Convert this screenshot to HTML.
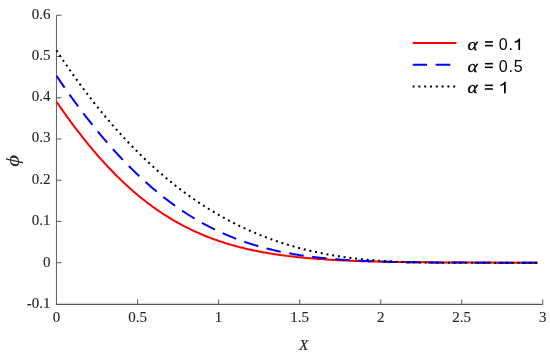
<!DOCTYPE html>
<html><head><meta charset="utf-8"><style>
html,body{margin:0;padding:0;background:#fff;}
body{width:550px;height:354px;overflow:hidden;}
svg{display:block;will-change:transform;}
.ax line,.ax path{stroke:#666666;stroke-width:1.1;fill:none;}
.tl{font-family:"Liberation Serif",serif;font-size:15px;fill:#262626;stroke:#262626;stroke-width:0.12px;}
.lg{font-family:"Liberation Sans",sans-serif;font-size:16px;fill:#000;}
.it{font-family:"Liberation Serif",serif;font-style:italic;}
</style></head><body>
<svg width="550" height="354" viewBox="0 0 550 354">
<rect width="550" height="354" fill="#fff"/>

<g class="ax">
<path d="M56.5,15.25 L56.5,304.4"/><path d="M55.95,304.4 L542.71,304.4" style="stroke:#555555;stroke-width:1.2"/>
<line x1="56.5" y1="15.25" x2="61.5" y2="15.25"/><line x1="56.5" y1="56.49" x2="61.5" y2="56.49"/><line x1="56.5" y1="97.73" x2="61.5" y2="97.73"/><line x1="56.5" y1="138.97" x2="61.5" y2="138.97"/><line x1="56.5" y1="180.21" x2="61.5" y2="180.21"/><line x1="56.5" y1="221.45" x2="61.5" y2="221.45"/><line x1="56.5" y1="262.69" x2="61.5" y2="262.69"/>
<line x1="137.53" y1="304.4" x2="137.53" y2="299.4"/><line x1="218.57" y1="304.4" x2="218.57" y2="299.4"/><line x1="299.61" y1="304.4" x2="299.61" y2="299.4"/><line x1="380.64" y1="304.4" x2="380.64" y2="299.4"/><line x1="461.67" y1="304.4" x2="461.67" y2="299.4"/><line x1="542.71" y1="304.4" x2="542.71" y2="299.4"/>
</g>
<g fill="none" stroke-width="2">
<path d="M56.50,101.77 L57.71,103.52 L58.91,105.25 L60.12,106.98 L61.33,108.69 L62.53,110.40 L63.74,112.09 L64.94,113.78 L66.15,115.45 L67.36,117.12 L68.56,118.77 L69.77,120.42 L70.98,122.05 L72.18,123.68 L73.39,125.29 L74.60,126.89 L75.80,128.49 L77.01,130.07 L78.21,131.64 L79.42,133.20 L80.63,134.74 L81.83,136.28 L83.04,137.81 L84.25,139.32 L85.45,140.83 L86.66,142.32 L87.87,143.80 L89.07,145.27 L90.28,146.73 L91.49,148.18 L92.69,149.62 L93.90,151.04 L95.10,152.46 L96.31,153.86 L97.52,155.25 L98.72,156.63 L99.93,158.00 L101.14,159.35 L102.34,160.70 L103.55,162.03 L104.76,163.35 L105.96,164.66 L107.17,165.96 L108.37,167.25 L109.58,168.53 L110.79,169.79 L111.99,171.04 L113.20,172.29 L114.41,173.51 L115.61,174.73 L116.82,175.94 L118.03,177.14 L119.23,178.32 L120.44,179.49 L121.64,180.65 L122.85,181.80 L124.06,182.94 L125.26,184.07 L126.47,185.18 L127.68,186.29 L128.88,187.38 L130.09,188.46 L131.30,189.53 L132.50,190.59 L133.71,191.64 L134.92,192.68 L136.12,193.70 L137.33,194.72 L138.53,195.72 L139.74,196.72 L140.95,197.70 L142.15,198.67 L143.36,199.63 L144.57,200.58 L145.77,201.52 L146.98,202.45 L148.19,203.37 L149.39,204.28 L150.60,205.17 L151.80,206.06 L153.01,206.94 L154.22,207.80 L155.42,208.66 L156.63,209.51 L157.84,210.34 L159.04,211.17 L160.25,211.98 L161.46,212.79 L162.66,213.58 L163.87,214.37 L165.07,215.15 L166.28,215.91 L167.49,216.67 L168.69,217.42 L169.90,218.16 L171.11,218.88 L172.31,219.60 L173.52,220.31 L174.73,221.01 L175.93,221.70 L177.14,222.39 L178.34,223.06 L179.55,223.72 L180.76,224.38 L181.96,225.03 L183.17,225.67 L184.38,226.29 L185.58,226.92 L186.79,227.53 L188.00,228.13 L189.20,228.73 L190.41,229.31 L191.62,229.89 L192.82,230.46 L194.03,231.03 L195.23,231.58 L196.44,232.13 L197.65,232.67 L198.85,233.20 L200.06,233.72 L201.27,234.24 L202.47,234.75 L203.68,235.25 L204.89,235.74 L206.09,236.23 L207.30,236.71 L208.50,237.18 L209.71,237.65 L210.92,238.10 L212.12,238.56 L213.33,239.00 L214.54,239.44 L215.74,239.87 L216.95,240.29 L218.16,240.71 L219.36,241.12 L220.57,241.52 L221.77,241.92 L222.98,242.31 L224.19,242.70 L225.39,243.08 L226.60,243.45 L227.81,243.82 L229.01,244.18 L230.22,244.54 L231.43,244.89 L232.63,245.23 L233.84,245.57 L235.05,245.90 L236.25,246.23 L237.46,246.55 L238.66,246.87 L239.87,247.18 L241.08,247.49 L242.28,247.79 L243.49,248.09 L244.70,248.38 L245.90,248.66 L247.11,248.94 L248.32,249.22 L249.52,249.49 L250.73,249.76 L251.93,250.02 L253.14,250.28 L254.35,250.53 L255.55,250.78 L256.76,251.02 L257.97,251.26 L259.17,251.50 L260.38,251.73 L261.59,251.96 L262.79,252.18 L264.00,252.40 L265.20,252.61 L266.41,252.83 L267.62,253.03 L268.82,253.24 L270.03,253.44 L271.24,253.63 L272.44,253.83 L273.65,254.01 L274.86,254.20 L276.06,254.38 L277.27,254.56 L278.47,254.74 L279.68,254.91 L280.89,255.08 L282.09,255.24 L283.30,255.40 L284.51,255.56 L285.71,255.72 L286.92,255.87 L288.13,256.02 L289.33,256.17 L290.54,256.31 L291.75,256.46 L292.95,256.59 L294.16,256.73 L295.36,256.86 L296.57,256.99 L297.78,257.12 L298.98,257.25 L300.19,257.37 L301.40,257.49 L302.60,257.61 L303.81,257.73 L305.02,257.84 L306.22,257.95 L307.43,258.06 L308.63,258.16 L309.84,258.27 L311.05,258.37 L312.25,258.47 L313.46,258.57 L314.67,258.67 L315.87,258.76 L317.08,258.85 L318.29,258.94 L319.49,259.03 L320.70,259.12 L321.90,259.20 L323.11,259.28 L324.32,259.36 L325.52,259.44 L326.73,259.52 L327.94,259.60 L329.14,259.67 L330.35,259.74 L331.56,259.81 L332.76,259.88 L333.97,259.95 L335.18,260.02 L336.38,260.08 L337.59,260.15 L338.79,260.21 L340.00,260.27 L341.21,260.33 L342.41,260.39 L343.62,260.44 L344.83,260.50 L346.03,260.55 L347.24,260.61 L348.45,260.66 L349.65,260.71 L350.86,260.76 L352.06,260.81 L353.27,260.86 L354.48,260.90 L355.68,260.95 L356.89,260.99 L358.10,261.03 L359.30,261.08 L360.51,261.12 L361.72,261.16 L362.92,261.20 L364.13,261.24 L365.33,261.27 L366.54,261.31 L367.75,261.35 L368.95,261.38 L370.16,261.41 L371.37,261.45 L372.57,261.48 L373.78,261.51 L374.99,261.54 L376.19,261.57 L377.40,261.60 L378.60,261.63 L379.81,261.66 L381.02,261.69 L382.22,261.71 L383.43,261.74 L384.64,261.76 L385.84,261.79 L387.05,261.81 L388.26,261.84 L389.46,261.86 L390.67,261.88 L391.88,261.90 L393.08,261.92 L394.29,261.95 L395.49,261.97 L396.70,261.99 L397.91,262.00 L399.11,262.02 L400.32,262.04 L401.53,262.06 L402.73,262.08 L403.94,262.09 L405.15,262.11 L406.35,262.13 L407.56,262.14 L408.76,262.16 L409.97,262.17 L411.18,262.19 L412.38,262.20 L413.59,262.21 L414.80,262.23 L416.00,262.24 L417.21,262.25 L418.42,262.27 L419.62,262.28 L420.83,262.29 L422.03,262.30 L423.24,262.31 L424.45,262.32 L425.65,262.33 L426.86,262.34 L428.07,262.35 L429.27,262.36 L430.48,262.37 L431.69,262.38 L432.89,262.39 L434.10,262.40 L435.31,262.41 L436.51,262.42 L437.72,262.42 L438.92,262.43 L440.13,262.44 L441.34,262.45 L442.54,262.45 L443.75,262.46 L444.96,262.47 L446.16,262.47 L447.37,262.48 L448.58,262.49 L449.78,262.49 L450.99,262.50 L452.19,262.50 L453.40,262.51 L454.61,262.52 L455.81,262.52 L457.02,262.53 L458.23,262.53 L459.43,262.54 L460.64,262.54 L461.85,262.54 L463.05,262.55 L464.26,262.55 L465.46,262.56 L466.67,262.56 L467.88,262.57 L469.08,262.57 L470.29,262.57 L471.50,262.58 L472.70,262.58 L473.91,262.58 L475.12,262.59 L476.32,262.59 L477.53,262.59 L478.73,262.60 L479.94,262.60 L481.15,262.60 L482.35,262.60 L483.56,262.61 L484.77,262.61 L485.97,262.61 L487.18,262.62 L488.39,262.62 L489.59,262.62 L490.80,262.62 L492.01,262.62 L493.21,262.63 L494.42,262.63 L495.62,262.63 L496.83,262.63 L498.04,262.63 L499.24,262.64 L500.45,262.64 L501.66,262.64 L502.86,262.64 L504.07,262.64 L505.28,262.64 L506.48,262.65 L507.69,262.65 L508.89,262.65 L510.10,262.65 L511.31,262.65 L512.51,262.65 L513.72,262.65 L514.93,262.65 L516.13,262.66 L517.34,262.66 L518.55,262.66 L519.75,262.66 L520.96,262.66 L522.16,262.66 L523.37,262.66 L524.58,262.66 L525.78,262.66 L526.99,262.66 L528.20,262.67 L529.40,262.67 L530.61,262.67 L531.82,262.67 L533.02,262.67 L534.23,262.67 L535.44,262.67 L536.64,262.67 L537.85,262.67" stroke="#ff0000"/>
<path d="M56.50,75.75 L57.71,77.54 L58.91,79.32 L60.12,81.09 L61.33,82.85 L62.53,84.61 L63.74,86.35 L64.94,88.08 L66.15,89.80 L67.36,91.52 L68.56,93.22 L69.77,94.91 L70.98,96.59 L72.18,98.27 L73.39,99.93 L74.60,101.59 L75.80,103.23 L77.01,104.87 L78.21,106.49 L79.42,108.11 L80.63,109.71 L81.83,111.31 L83.04,112.90 L84.25,114.47 L85.45,116.04 L86.66,117.60 L87.87,119.14 L89.07,120.68 L90.28,122.21 L91.49,123.73 L92.69,125.24 L93.90,126.74 L95.10,128.23 L96.31,129.71 L97.52,131.18 L98.72,132.64 L99.93,134.09 L101.14,135.54 L102.34,136.97 L103.55,138.39 L104.76,139.80 L105.96,141.21 L107.17,142.60 L108.37,143.99 L109.58,145.36 L110.79,146.73 L111.99,148.08 L113.20,149.43 L114.41,150.76 L115.61,152.09 L116.82,153.41 L118.03,154.71 L119.23,156.01 L120.44,157.30 L121.64,158.58 L122.85,159.85 L124.06,161.11 L125.26,162.36 L126.47,163.60 L127.68,164.83 L128.88,166.05 L130.09,167.26 L131.30,168.47 L132.50,169.66 L133.71,170.84 L134.92,172.02 L136.12,173.18 L137.33,174.34 L138.53,175.48 L139.74,176.62 L140.95,177.75 L142.15,178.86 L143.36,179.97 L144.57,181.07 L145.77,182.16 L146.98,183.24 L148.19,184.31 L149.39,185.37 L150.60,186.42 L151.80,187.46 L153.01,188.50 L154.22,189.52 L155.42,190.54 L156.63,191.54 L157.84,192.54 L159.04,193.52 L160.25,194.50 L161.46,195.47 L162.66,196.43 L163.87,197.38 L165.07,198.32 L166.28,199.25 L167.49,200.17 L168.69,201.09 L169.90,201.99 L171.11,202.89 L172.31,203.77 L173.52,204.65 L174.73,205.52 L175.93,206.38 L177.14,207.23 L178.34,208.07 L179.55,208.91 L180.76,209.73 L181.96,210.55 L183.17,211.35 L184.38,212.15 L185.58,212.94 L186.79,213.72 L188.00,214.50 L189.20,215.26 L190.41,216.02 L191.62,216.76 L192.82,217.50 L194.03,218.23 L195.23,218.95 L196.44,219.67 L197.65,220.37 L198.85,221.07 L200.06,221.76 L201.27,222.44 L202.47,223.11 L203.68,223.78 L204.89,224.43 L206.09,225.08 L207.30,225.72 L208.50,226.35 L209.71,226.98 L210.92,227.60 L212.12,228.20 L213.33,228.81 L214.54,229.40 L215.74,229.98 L216.95,230.56 L218.16,231.13 L219.36,231.70 L220.57,232.25 L221.77,232.80 L222.98,233.34 L224.19,233.88 L225.39,234.40 L226.60,234.92 L227.81,235.43 L229.01,235.94 L230.22,236.44 L231.43,236.93 L232.63,237.41 L233.84,237.89 L235.05,238.36 L236.25,238.82 L237.46,239.28 L238.66,239.73 L239.87,240.18 L241.08,240.61 L242.28,241.04 L243.49,241.47 L244.70,241.88 L245.90,242.30 L247.11,242.70 L248.32,243.10 L249.52,243.49 L250.73,243.88 L251.93,244.26 L253.14,244.64 L254.35,245.00 L255.55,245.37 L256.76,245.72 L257.97,246.07 L259.17,246.42 L260.38,246.76 L261.59,247.09 L262.79,247.42 L264.00,247.75 L265.20,248.06 L266.41,248.38 L267.62,248.68 L268.82,248.99 L270.03,249.28 L271.24,249.58 L272.44,249.86 L273.65,250.14 L274.86,250.42 L276.06,250.69 L277.27,250.96 L278.47,251.22 L279.68,251.48 L280.89,251.73 L282.09,251.98 L283.30,252.22 L284.51,252.46 L285.71,252.70 L286.92,252.93 L288.13,253.15 L289.33,253.38 L290.54,253.59 L291.75,253.81 L292.95,254.02 L294.16,254.22 L295.36,254.42 L296.57,254.62 L297.78,254.82 L298.98,255.01 L300.19,255.19 L301.40,255.37 L302.60,255.55 L303.81,255.73 L305.02,255.90 L306.22,256.07 L307.43,256.23 L308.63,256.39 L309.84,256.55 L311.05,256.70 L312.25,256.86 L313.46,257.00 L314.67,257.15 L315.87,257.29 L317.08,257.43 L318.29,257.57 L319.49,257.70 L320.70,257.83 L321.90,257.96 L323.11,258.08 L324.32,258.20 L325.52,258.32 L326.73,258.44 L327.94,258.55 L329.14,258.66 L330.35,258.77 L331.56,258.88 L332.76,258.98 L333.97,259.08 L335.18,259.18 L336.38,259.28 L337.59,259.37 L338.79,259.46 L340.00,259.55 L341.21,259.64 L342.41,259.73 L343.62,259.81 L344.83,259.89 L346.03,259.97 L347.24,260.05 L348.45,260.13 L349.65,260.20 L350.86,260.27 L352.06,260.34 L353.27,260.41 L354.48,260.48 L355.68,260.54 L356.89,260.61 L358.10,260.67 L359.30,260.73 L360.51,260.79 L361.72,260.84 L362.92,260.90 L364.13,260.95 L365.33,261.01 L366.54,261.06 L367.75,261.11 L368.95,261.16 L370.16,261.20 L371.37,261.25 L372.57,261.29 L373.78,261.34 L374.99,261.38 L376.19,261.42 L377.40,261.46 L378.60,261.50 L379.81,261.54 L381.02,261.58 L382.22,261.61 L383.43,261.65 L384.64,261.68 L385.84,261.71 L387.05,261.74 L388.26,261.78 L389.46,261.81 L390.67,261.84 L391.88,261.86 L393.08,261.89 L394.29,261.92 L395.49,261.94 L396.70,261.97 L397.91,261.99 L399.11,262.02 L400.32,262.04 L401.53,262.06 L402.73,262.08 L403.94,262.10 L405.15,262.12 L406.35,262.14 L407.56,262.16 L408.76,262.18 L409.97,262.20 L411.18,262.22 L412.38,262.23 L413.59,262.25 L414.80,262.27 L416.00,262.28 L417.21,262.30 L418.42,262.31 L419.62,262.32 L420.83,262.34 L422.03,262.35 L423.24,262.36 L424.45,262.37 L425.65,262.39 L426.86,262.40 L428.07,262.41 L429.27,262.42 L430.48,262.43 L431.69,262.44 L432.89,262.45 L434.10,262.46 L435.31,262.47 L436.51,262.47 L437.72,262.48 L438.92,262.49 L440.13,262.50 L441.34,262.51 L442.54,262.51 L443.75,262.52 L444.96,262.53 L446.16,262.53 L447.37,262.54 L448.58,262.55 L449.78,262.55 L450.99,262.56 L452.19,262.56 L453.40,262.57 L454.61,262.57 L455.81,262.58 L457.02,262.58 L458.23,262.59 L459.43,262.59 L460.64,262.59 L461.85,262.60 L463.05,262.60 L464.26,262.61 L465.46,262.61 L466.67,262.61 L467.88,262.62 L469.08,262.62 L470.29,262.62 L471.50,262.62 L472.70,262.63 L473.91,262.63 L475.12,262.63 L476.32,262.64 L477.53,262.64 L478.73,262.64 L479.94,262.64 L481.15,262.64 L482.35,262.65 L483.56,262.65 L484.77,262.65 L485.97,262.65 L487.18,262.65 L488.39,262.66 L489.59,262.66 L490.80,262.66 L492.01,262.66 L493.21,262.66 L494.42,262.66 L495.62,262.66 L496.83,262.66 L498.04,262.67 L499.24,262.67 L500.45,262.67 L501.66,262.67 L502.86,262.67 L504.07,262.67 L505.28,262.67 L506.48,262.67 L507.69,262.67 L508.89,262.67 L510.10,262.68 L511.31,262.68 L512.51,262.68 L513.72,262.68 L514.93,262.68 L516.13,262.68 L517.34,262.68 L518.55,262.68 L519.75,262.68 L520.96,262.68 L522.16,262.68 L523.37,262.68 L524.58,262.68 L525.78,262.68 L526.99,262.68 L528.20,262.68 L529.40,262.68 L530.61,262.68 L531.82,262.68 L533.02,262.68 L534.23,262.68 L535.44,262.68 L536.64,262.69 L537.85,262.69" stroke="#0000ff" stroke-dasharray="14.68 8.543" stroke-dashoffset="0.317"/>
<path d="M56.50,50.43 L57.71,52.26 L58.91,54.08 L60.12,55.89 L61.33,57.70 L62.53,59.49 L63.74,61.27 L64.94,63.04 L66.15,64.80 L67.36,66.55 L68.56,68.29 L69.77,70.02 L70.98,71.74 L72.18,73.45 L73.39,75.15 L74.60,76.84 L75.80,78.52 L77.01,80.19 L78.21,81.85 L79.42,83.50 L80.63,85.14 L81.83,86.77 L83.04,88.39 L84.25,90.01 L85.45,91.61 L86.66,93.20 L87.87,94.78 L89.07,96.35 L90.28,97.91 L91.49,99.47 L92.69,101.01 L93.90,102.54 L95.10,104.07 L96.31,105.58 L97.52,107.09 L98.72,108.58 L99.93,110.07 L101.14,111.55 L102.34,113.01 L103.55,114.47 L104.76,115.92 L105.96,117.36 L107.17,118.79 L108.37,120.21 L109.58,121.62 L110.79,123.03 L111.99,124.42 L113.20,125.80 L114.41,127.18 L115.61,128.55 L116.82,129.90 L118.03,131.25 L119.23,132.59 L120.44,133.92 L121.64,135.24 L122.85,136.56 L124.06,137.86 L125.26,139.15 L126.47,140.44 L127.68,141.72 L128.88,142.99 L130.09,144.24 L131.30,145.50 L132.50,146.74 L133.71,147.97 L134.92,149.20 L136.12,150.41 L137.33,151.62 L138.53,152.82 L139.74,154.01 L140.95,155.19 L142.15,156.37 L143.36,157.53 L144.57,158.69 L145.77,159.84 L146.98,160.98 L148.19,162.11 L149.39,163.24 L150.60,164.35 L151.80,165.46 L153.01,166.56 L154.22,167.65 L155.42,168.73 L156.63,169.81 L157.84,170.88 L159.04,171.93 L160.25,172.99 L161.46,174.03 L162.66,175.06 L163.87,176.09 L165.07,177.11 L166.28,178.12 L167.49,179.12 L168.69,180.12 L169.90,181.11 L171.11,182.09 L172.31,183.06 L173.52,184.02 L174.73,184.98 L175.93,185.93 L177.14,186.87 L178.34,187.81 L179.55,188.73 L180.76,189.65 L181.96,190.56 L183.17,191.47 L184.38,192.36 L185.58,193.25 L186.79,194.14 L188.00,195.01 L189.20,195.88 L190.41,196.74 L191.62,197.59 L192.82,198.44 L194.03,199.27 L195.23,200.10 L196.44,200.93 L197.65,201.74 L198.85,202.55 L200.06,203.36 L201.27,204.15 L202.47,204.94 L203.68,205.72 L204.89,206.50 L206.09,207.27 L207.30,208.03 L208.50,208.78 L209.71,209.53 L210.92,210.27 L212.12,211.00 L213.33,211.73 L214.54,212.45 L215.74,213.16 L216.95,213.87 L218.16,214.57 L219.36,215.26 L220.57,215.95 L221.77,216.63 L222.98,217.30 L224.19,217.97 L225.39,218.63 L226.60,219.29 L227.81,219.93 L229.01,220.58 L230.22,221.21 L231.43,221.84 L232.63,222.46 L233.84,223.08 L235.05,223.69 L236.25,224.30 L237.46,224.89 L238.66,225.49 L239.87,226.07 L241.08,226.65 L242.28,227.23 L243.49,227.79 L244.70,228.36 L245.90,228.91 L247.11,229.46 L248.32,230.01 L249.52,230.54 L250.73,231.08 L251.93,231.60 L253.14,232.12 L254.35,232.64 L255.55,233.15 L256.76,233.65 L257.97,234.15 L259.17,234.64 L260.38,235.13 L261.59,235.61 L262.79,236.09 L264.00,236.56 L265.20,237.02 L266.41,237.48 L267.62,237.94 L268.82,238.38 L270.03,238.83 L271.24,239.27 L272.44,239.70 L273.65,240.13 L274.86,240.55 L276.06,240.97 L277.27,241.38 L278.47,241.78 L279.68,242.19 L280.89,242.58 L282.09,242.97 L283.30,243.36 L284.51,243.74 L285.71,244.12 L286.92,244.49 L288.13,244.86 L289.33,245.22 L290.54,245.57 L291.75,245.93 L292.95,246.27 L294.16,246.62 L295.36,246.96 L296.57,247.29 L297.78,247.62 L298.98,247.94 L300.19,248.26 L301.40,248.58 L302.60,248.89 L303.81,249.19 L305.02,249.49 L306.22,249.79 L307.43,250.08 L308.63,250.37 L309.84,250.66 L311.05,250.93 L312.25,251.21 L313.46,251.48 L314.67,251.75 L315.87,252.01 L317.08,252.27 L318.29,252.52 L319.49,252.77 L320.70,253.02 L321.90,253.26 L323.11,253.50 L324.32,253.73 L325.52,253.96 L326.73,254.19 L327.94,254.41 L329.14,254.63 L330.35,254.85 L331.56,255.06 L332.76,255.27 L333.97,255.47 L335.18,255.67 L336.38,255.87 L337.59,256.06 L338.79,256.25 L340.00,256.43 L341.21,256.61 L342.41,256.79 L343.62,256.97 L344.83,257.14 L346.03,257.31 L347.24,257.47 L348.45,257.63 L349.65,257.79 L350.86,257.95 L352.06,258.10 L353.27,258.25 L354.48,258.39 L355.68,258.53 L356.89,258.67 L358.10,258.81 L359.30,258.94 L360.51,259.07 L361.72,259.20 L362.92,259.32 L364.13,259.44 L365.33,259.56 L366.54,259.68 L367.75,259.79 L368.95,259.90 L370.16,260.01 L371.37,260.11 L372.57,260.21 L373.78,260.31 L374.99,260.41 L376.19,260.50 L377.40,260.59 L378.60,260.68 L379.81,260.77 L381.02,260.85 L382.22,260.93 L383.43,261.01 L384.64,261.09 L385.84,261.16 L387.05,261.24 L388.26,261.30 L389.46,261.37 L390.67,261.44 L391.88,261.50 L393.08,261.56 L394.29,261.62 L395.49,261.68 L396.70,261.73 L397.91,261.79 L399.11,261.84 L400.32,261.89 L401.53,261.93 L402.73,261.98 L403.94,262.02 L405.15,262.06 L406.35,262.10 L407.56,262.14 L408.76,262.18 L409.97,262.21 L411.18,262.25 L412.38,262.28 L413.59,262.31 L414.80,262.34 L416.00,262.36 L417.21,262.39 L418.42,262.42 L419.62,262.44 L420.83,262.46 L422.03,262.48 L423.24,262.50 L424.45,262.52 L425.65,262.54 L426.86,262.55 L428.07,262.57 L429.27,262.58 L430.48,262.59 L431.69,262.60 L432.89,262.61 L434.10,262.62 L435.31,262.63 L436.51,262.64 L437.72,262.65 L438.92,262.66 L440.13,262.66 L441.34,262.67 L442.54,262.67 L443.75,262.67 L444.96,262.68 L446.16,262.68 L447.37,262.68 L448.58,262.69 L449.78,262.69 L450.99,262.69 L452.19,262.69 L453.40,262.69 L454.61,262.69 L455.81,262.69 L457.02,262.69 L458.23,262.69 L459.43,262.69 L460.64,262.69 L461.85,262.69 L463.05,262.69 L464.26,262.69 L465.46,262.69 L466.67,262.69 L467.88,262.69 L469.08,262.69 L470.29,262.69 L471.50,262.69 L472.70,262.69 L473.91,262.69 L475.12,262.69 L476.32,262.69 L477.53,262.69 L478.73,262.69 L479.94,262.69 L481.15,262.69 L482.35,262.69 L483.56,262.69 L484.77,262.69 L485.97,262.69 L487.18,262.69 L488.39,262.69 L489.59,262.69 L490.80,262.69 L492.01,262.69 L493.21,262.69 L494.42,262.69 L495.62,262.69 L496.83,262.69 L498.04,262.69 L499.24,262.69 L500.45,262.69 L501.66,262.69 L502.86,262.69 L504.07,262.69 L505.28,262.69 L506.48,262.69 L507.69,262.69 L508.89,262.69 L510.10,262.69 L511.31,262.69 L512.51,262.69 L513.72,262.69 L514.93,262.69 L516.13,262.69 L517.34,262.69 L518.55,262.69 L519.75,262.69 L520.96,262.69 L522.16,262.69 L523.37,262.69 L524.58,262.69 L525.78,262.69 L526.99,262.69 L528.20,262.69 L529.40,262.69 L530.61,262.69 L531.82,262.69 L533.02,262.69 L534.23,262.69 L535.44,262.69 L536.64,262.69 L537.85,262.69" stroke="#000" stroke-dasharray="2 3.8075" stroke-dashoffset="0.125"/>
</g>
<g class="tl">
<g transform="translate(0,0.4)"><text x="50.5" y="18.25" text-anchor="end">0.6</text><text x="50.5" y="59.49" text-anchor="end">0.5</text><text x="50.5" y="100.73" text-anchor="end">0.4</text><text x="50.5" y="141.97" text-anchor="end">0.3</text><text x="50.5" y="183.21" text-anchor="end">0.2</text><text x="50.5" y="224.45" text-anchor="end">0.1</text><text x="50.5" y="266.69" text-anchor="end">0</text><text x="50.5" y="307.93" text-anchor="end">-0.1</text></g>
<text x="56.50" y="322.0" text-anchor="middle">0</text><text x="137.53" y="322.0" text-anchor="middle">0.5</text><text x="218.57" y="322.0" text-anchor="middle">1</text><text x="299.61" y="322.0" text-anchor="middle">1.5</text><text x="380.64" y="322.0" text-anchor="middle">2</text><text x="461.67" y="322.0" text-anchor="middle">2.5</text><text x="542.71" y="322.0" text-anchor="middle">3</text>
<text x="303.7" y="350.2" text-anchor="middle" class="it" font-size="14" transform="translate(303.7,350.2) scale(1.1,1.0) translate(-303.7,-350.2)">X</text>
<text transform="translate(18.9,160.7) rotate(-90) scale(1.17,1)" text-anchor="middle" class="it" font-size="19.6">&#981;</text>
</g>
<g stroke-width="2" fill="none">
<line x1="412.7" y1="43" x2="456.4" y2="43" stroke="#ff0000" /><line x1="412.7" y1="64.7" x2="456.4" y2="64.7" stroke="#0000ff" stroke-dasharray="14.68 8.543" stroke-dashoffset="0.317"/><line x1="412.7" y1="86.6" x2="456.4" y2="86.6" stroke="#000000" stroke-dasharray="2 3.8075" stroke-dashoffset="0.125"/>
</g>
<g class="lg">
<text x="467.5" y="50.1" class="it" font-size="17" stroke="#000" stroke-width="0.3" transform="translate(467.5,50.1) scale(1.15,1) translate(-467.5,-50.1)">&#945;</text><rect x="484.9" y="41.20" width="8.0" height="1.55"/><rect x="484.9" y="44.85" width="8.0" height="1.55"/><text x="498.8" y="50.1" letter-spacing="0.8">0.</text><path d="M518.35,50 L520.10,50 L520.10,38.50 L518.75,38.50 C518.15,40.00 516.85,41.00 514.75,41.30 L514.75,42.80 C516.25,42.70 517.55,42.10 518.35,41.40 Z"/><text x="467.5" y="71.8" class="it" font-size="17" stroke="#000" stroke-width="0.3" transform="translate(467.5,71.8) scale(1.15,1) translate(-467.5,-71.8)">&#945;</text><rect x="484.9" y="62.90" width="8.0" height="1.55"/><rect x="484.9" y="66.55" width="8.0" height="1.55"/><text x="498.8" y="71.8" letter-spacing="0.8">0.5</text><text x="467.5" y="93.3" class="it" font-size="17" stroke="#000" stroke-width="0.3" transform="translate(467.5,93.3) scale(1.15,1) translate(-467.5,-93.3)">&#945;</text><rect x="484.9" y="84.55" width="8.0" height="1.55"/><rect x="484.9" y="88.20" width="8.0" height="1.55"/><path d="M504.00,93.2 L505.75,93.2 L505.75,81.70 L504.40,81.70 C503.80,83.20 502.50,84.20 500.40,84.50 L500.40,86.00 C501.90,85.90 503.20,85.30 504.00,84.60 Z"/>
</g>
</svg>
</body></html>
